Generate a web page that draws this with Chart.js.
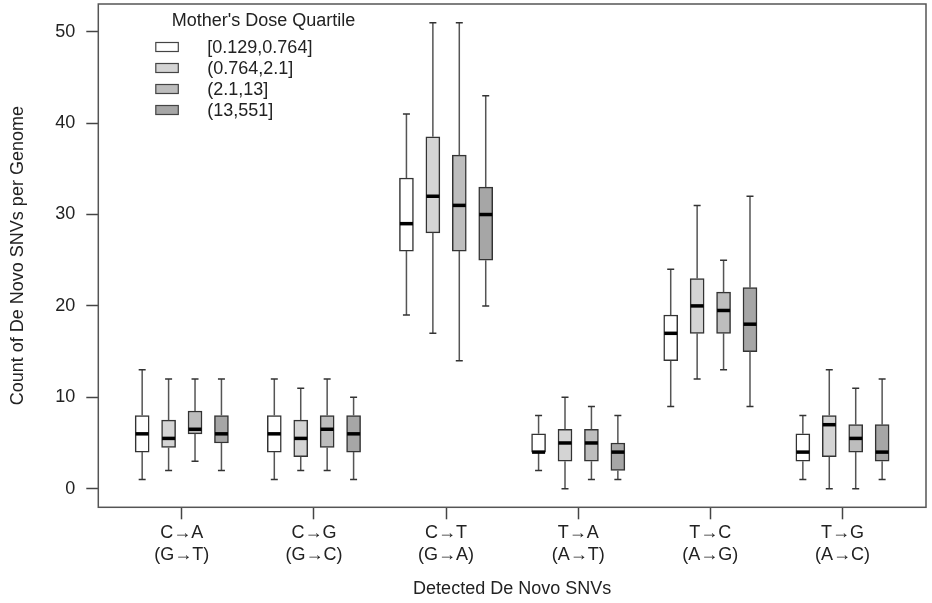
<!DOCTYPE html>
<html>
<head>
<meta charset="utf-8">
<script src="https://cdn.jsdelivr.net/npm/chart.js@4"></script>
<style>
  html, body { margin: 0; padding: 0; background: #fff; }
  #wrap { width: 932px; height: 603px; position: relative; }
</style>
</head>
<body>
<div id="wrap"><canvas id="myChart"></canvas></div>
<script>
const categories = [['C→A', '(G→T)'], ['C→G', '(G→C)'], ['C→T', '(G→A)'], ['T→A', '(A→T)'], ['T→C', '(A→G)'], ['T→G', '(A→C)']];
const quartiles = ['[0.129,0.764]', '(0.764,2.1]', '(2.1,13]', '(13,551]'];
const yTicks = [0, 10, 20, 30, 40, 50];

// per category: [min, q1, median, q3, max]
const doseQ1 = [[1, 4, 6, 8, 13], [1, 4, 6, 8, 12], [19, 26, 29, 34, 41], [2, 4, 4, 6, 8], [9, 14, 17, 19, 24], [1, 3, 4, 6, 8]];
const doseQ2 = [[2, 4.5, 5.5, 7.5, 12], [2, 3.5, 5.5, 7.5, 11], [17, 28, 32, 38.5, 51], [0, 3, 5, 6.5, 10], [12, 17, 20, 23, 31], [0, 3.5, 7, 8, 13]];
const doseQ3 = [[3, 6, 6.5, 8.5, 12], [2, 4.5, 6.5, 8, 12], [14, 26, 31, 36.5, 51], [1, 3, 5, 6.5, 9], [13, 17, 19.5, 21.5, 25], [0, 4, 5.5, 7, 11]];
const doseQ4 = [[2, 5, 6, 8, 12], [1, 4, 6, 8, 10], [20, 25, 30, 33, 43], [1, 2, 4, 5, 8], [9, 15, 18, 22, 32], [1, 3, 4, 7, 12]];

const fills = ['#ffffff', '#d4d4d4', '#bdbdbd', '#a6a6a6'];
const FONT = '"Liberation Sans", Arial, sans-serif';
Chart.defaults.font.family = FONT;

// boxes sit at 1..4, 6..9, ... like R's boxplot "at"
const summaries = [doseQ1, doseQ2, doseQ3, doseQ4];
const datasets = summaries.map((s, j) => ({
  label: quartiles[j],
  data: s.map((v, k) => ({ x: k * 5 + j + 1, y: [v[1], v[3]], stats: v })),
  backgroundColor: fills[j],
  borderColor: '#333',
  borderWidth: 1.5,
  borderSkipped: false,
  barThickness: 14,
  grouped: false,
}));

const whiskers = {
  id: 'whiskers',
  afterDatasetsDraw(chart) {
    const ctx = chart.ctx;
    const ys = chart.scales.y;
    chart.data.datasets.forEach((ds, j) => {
      chart.getDatasetMeta(j).data.forEach((bar, k) => {
        const { x, width } = bar.getProps(['x', 'width'], true);
        const [lo, q1, med, q3, hi] = ds.data[k].stats;
        const half = width / 2;
        ctx.save();
        ctx.strokeStyle = '#555';
        ctx.lineWidth = 1.5;
        ctx.beginPath();
        ctx.moveTo(x, ys.getPixelForValue(q3));
        ctx.lineTo(x, ys.getPixelForValue(hi));
        ctx.moveTo(x, ys.getPixelForValue(q1));
        ctx.lineTo(x, ys.getPixelForValue(lo));
        ctx.stroke();
        ctx.strokeStyle = '#333';
        ctx.beginPath();
        ctx.moveTo(x - half / 2, ys.getPixelForValue(hi));
        ctx.lineTo(x + half / 2, ys.getPixelForValue(hi));
        ctx.moveTo(x - half / 2, ys.getPixelForValue(lo));
        ctx.lineTo(x + half / 2, ys.getPixelForValue(lo));
        ctx.stroke();
        ctx.strokeStyle = '#000';
        ctx.lineWidth = 3.5;
        ctx.beginPath();
        ctx.moveTo(x - half + 0.5, ys.getPixelForValue(med));
        ctx.lineTo(x + half - 0.5, ys.getPixelForValue(med));
        ctx.stroke();
        ctx.restore();
      });
    });
  }
};

const frameAndLegend = {
  id: 'frameAndLegend',
  afterDraw(chart) {
    const { ctx, chartArea } = chart;
    const { left, top, right, bottom } = chartArea;
    ctx.save();
    ctx.strokeStyle = '#555';
    ctx.lineWidth = 1.5;
    ctx.strokeRect(left, top, right - left, bottom - top);

    ctx.font = '18px ' + FONT;
    ctx.textBaseline = 'middle';
    ctx.textAlign = 'left';
    ctx.fillStyle = '#222';
    ctx.fillText("Mother's Dose Quartile", left + 73.5, top + 17);
    chart.data.datasets.forEach((ds, j) => {
      const cy = top + 43 + j * 21;
      ctx.fillStyle = ds.backgroundColor;
      ctx.fillRect(left + 57.5, cy - 4.5, 22.5, 9);
      ctx.strokeStyle = '#444';
      ctx.lineWidth = 1.2;
      ctx.strokeRect(left + 57.5, cy - 4.5, 22.5, 9);
      ctx.fillStyle = '#222';
      ctx.fillText(ds.label, left + 109, cy + 1);
    });
    ctx.restore();
  }
};

const noPad = s => { s.paddingTop = 0; s.paddingBottom = 0; s.paddingLeft = 0; s.paddingRight = 0; };

const ctx = document.getElementById('myChart');
new Chart(ctx, {
  type: 'bar',
  data: { datasets },
  options: {
    responsive: true,
    maintainAspectRatio: false,
    animation: false,
    layout: { padding: { top: 4, right: 6, bottom: 0, left: 0 } },
    plugins: {
      legend: { display: false },
      tooltip: { enabled: false },
    },
    scales: {
      x: {
        type: 'linear',
        min: -0.66,
        max: 30.66,
        bounds: 'data',
        offset: false,
        afterBuildTicks: s => { s.ticks = categories.map((c, k) => ({ value: k * 5 + 2.5 })); },
        afterFit: s => { s.height = 95.7; noPad(s); },
        border: { display: false },
        grid: { offset: false, drawOnChartArea: false, tickLength: 12, tickColor: '#444', tickWidth: 1.5 },
        ticks: {
          autoSkip: false, maxRotation: 0, padding: 2, color: '#222',
          font: { size: 18, lineHeight: 1.25 },
          callback: (v, i) => categories[i],
        },
        title: { display: true, text: 'Detected De Novo SNVs', color: '#222', font: { size: 18 }, padding: { top: 0, bottom: 3 } },
      },
      y: {
        min: -2.04,
        max: 53.04,
        bounds: 'data',
        afterBuildTicks: s => { s.ticks = yTicks.map(v => ({ value: v })); },
        afterFit: s => { s.width = 98.3; noPad(s); },
        border: { display: false },
        grid: { drawOnChartArea: false, tickLength: 12, tickColor: '#444', tickWidth: 1.5 },
        ticks: { padding: 11, color: '#222', font: { size: 18 } },
        title: { display: true, text: 'Count of De Novo SNVs per Genome', color: '#222', font: { size: 18 }, padding: { top: 7, bottom: 0 } },
      },
    },
  },
  plugins: [whiskers, frameAndLegend],
});
</script>
</body>
</html>
